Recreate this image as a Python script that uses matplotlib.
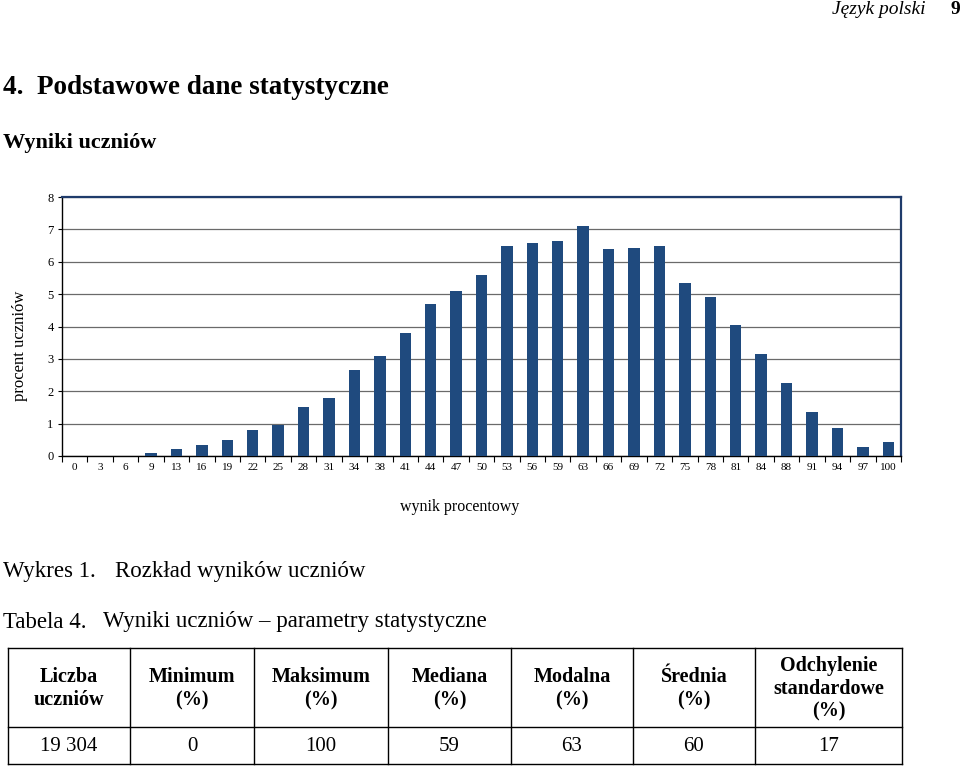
import matplotlib
matplotlib.use("Agg")
import matplotlib.pyplot as plt
from matplotlib.lines import Line2D
import numpy as np

plt.rcParams["font.family"] = ["Liberation Serif", "DejaVu Serif"]

# --- data ---
wynik = [0, 3, 6, 9, 13, 16, 19, 22, 25, 28, 31, 34, 38, 41, 44, 47, 50,
         53, 56, 59, 63, 66, 69, 72, 75, 78, 81, 84, 88, 91, 94, 97, 100]
procent = [0.0, 0.01, 0.01, 0.08, 0.22, 0.35, 0.49, 0.79, 0.97, 1.50, 1.80,
           2.66, 3.10, 3.80, 4.68, 5.11, 5.60, 6.50, 6.57, 6.65, 7.10, 6.40,
           6.41, 6.50, 5.35, 4.90, 4.05, 3.14, 2.25, 1.37, 0.85, 0.29, 0.44]

tab_headers = ["Liczba\nuczniów", "Minimum\n(%)", "Maksimum\n(%)", "Mediana\n(%)",
               "Modalna\n(%)", "Średnia\n(%)", "Odchylenie\nstandardowe\n(%)"]
tab_values = ["19 304", "0", "100", "59", "63", "60", "17"]

W, H = 960, 766
BAR = "#1F4A7E"
FRAME = "#1F3B6B"

fig = plt.figure(figsize=(W / 100, H / 100), dpi=100)

# overlay axes in pixel coordinates for page text and the table
page = fig.add_axes([0, 0, 1, 1])
page.set_xlim(0, W)
page.set_ylim(H, 0)
page.axis("off")

# --- chart ---
left, right, top, bottom = 62, 901, 197, 456
ax = fig.add_axes([left / W, 1 - bottom / H, (right - left) / W, (bottom - top) / H])
x = np.arange(len(wynik))
ax.bar(x, procent, width=0.45, color=BAR, zorder=3)
ax.set_xlim(-0.5, len(wynik) - 0.5)
ax.set_ylim(0, 8)
ax.set_yticks(range(0, 9))
ax.set_yticklabels([str(v) for v in range(0, 9)], fontsize=9)
ax.set_xticks(x)
ax.set_xticklabels([str(v) for v in wynik], fontsize=8)
ax.set_xticks(np.arange(-0.5, len(wynik)), minor=True)
ax.tick_params(axis="x", which="major", length=0, pad=5)
ax.tick_params(axis="x", which="minor", length=4, width=0.8, direction="out")
ax.tick_params(axis="y", length=3, width=0.8, pad=3)
ax.yaxis.grid(True, color="#6a6a6a", linewidth=0.9, zorder=0)
ax.set_axisbelow(True)
for side in ("top", "right"):
    ax.spines[side].set_color(FRAME)
    ax.spines[side].set_linewidth(1.6)
for side in ("left", "bottom"):
    ax.spines[side].set_color("black")
    ax.spines[side].set_linewidth(1.0)

page.text(20, 346, "procent uczniów", rotation=90, ha="center", va="center", fontsize=12)
page.text(460, 507, "wynik procentowy", ha="center", va="center", fontsize=11.5)

# --- page texts ---
page.text(925, 10, "Język polski", ha="right", va="center", fontsize=14, style="italic")
page.text(955, 10, "9", ha="center", va="center", fontsize=14, weight="bold")
page.text(3, 88, "4.  Podstawowe dane statystyczne", ha="left", va="center",
          fontsize=19.5, weight="bold")
page.text(3, 143, "Wyniki uczniów", ha="left", va="center", fontsize=16, weight="bold")
page.text(3, 572, "Wykres 1.", ha="left", va="center", fontsize=16.5)
page.text(115, 572, "Rozkład wyników uczniów", ha="left", va="center", fontsize=16.5)
page.text(3, 622, "Tabela 4.", ha="left", va="center", fontsize=16.5)
page.text(103, 622, "Wyniki uczniów – parametry statystyczne", ha="left", va="center",
          fontsize=16.5)

# --- table ---
col_edges = [8, 130, 254, 388, 511, 633, 755, 902]
t_top, t_mid, t_bot = 648, 727, 764
lw = 1.0
for y in (t_top, t_mid, t_bot):
    page.add_line(Line2D([col_edges[0], col_edges[-1]], [y, y], color="black", linewidth=lw))
for xe in col_edges:
    page.add_line(Line2D([xe, xe], [t_top, t_bot], color="black", linewidth=lw))
for i, (hdr, val) in enumerate(zip(tab_headers, tab_values)):
    cx = (col_edges[i] + col_edges[i + 1]) / 2
    page.text(cx, (t_top + t_mid) / 2 + 1, hdr, ha="center", va="center", fontsize=14.5,
              weight="bold", linespacing=1.2)
    page.text(cx, (t_mid + t_bot) / 2 + 1, val, ha="center", va="center", fontsize=15)

fig.savefig("out.png", dpi=100)
